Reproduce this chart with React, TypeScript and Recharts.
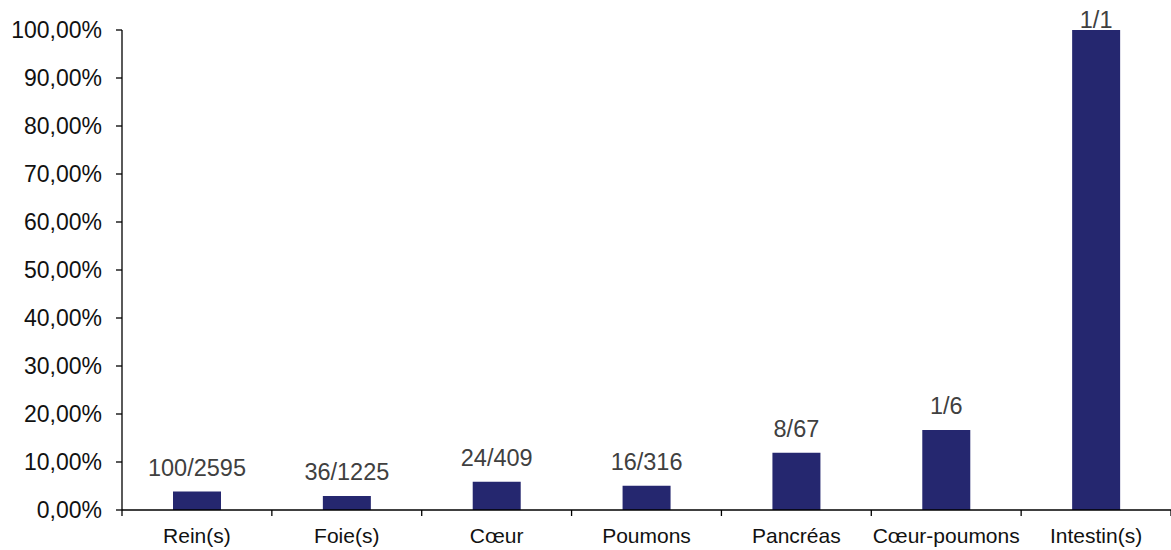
import React from "react";
import { BarChart, Bar, XAxis, YAxis, LabelList } from "recharts";

const categories = ["Rein(s)", "Foie(s)", "Cœur", "Poumons", "Pancréas", "Cœur-poumons", "Intestin(s)"];
const percentages = [3.85, 2.94, 5.87, 5.06, 11.94, 16.67, 100];
const ratioLabels = ["100/2595", "36/1225", "24/409", "16/316", "8/67", "1/6", "1/1"];
const yTicks = [0, 10, 20, 30, 40, 50, 60, 70, 80, 90, 100];

const data = categories.map((c, i) => ({ name: c, value: percentages[i], label: ratioLabels[i] }));

const W = 1171;
const H = 550;
const M = { top: 30, right: 0, bottom: 0, left: 0 };
const Y_W = 122;
const X_H = 40;
const FONT = "'Liberation Sans', Arial, sans-serif";
const band = (W - M.left - M.right - Y_W) / categories.length;

const XTick = (props: any) => {
  const { x, y, payload, index } = props;
  const left = x - band / 2;
  const right = x + band / 2;
  return (
    <g>
      <line x1={left} y1={y} x2={left} y2={y + 6} stroke="#000" strokeWidth={1.3} />
      {index === categories.length - 1 && (
        <line x1={right} y1={y} x2={right} y2={y + 6} stroke="#000" strokeWidth={1.3} />
      )}
      <text x={x} y={y + 33} textAnchor="middle" fontSize={21} fontFamily={FONT} fill="#111">
        {payload.value}
      </text>
    </g>
  );
};

const TopLabel = (props: any) => {
  const { x, y, width, value } = props;
  const ty = Math.max(y - 16, 28);
  return (
    <text x={x + width / 2} y={ty} textAnchor="middle" fontSize={23.5} fontFamily={FONT} fill="#404040">
      {value}
    </text>
  );
};

export default function App() {
  return (
    <div style={{ position: "absolute", left: 0, top: 0, background: "#fff" }}>
      <BarChart width={W} height={H} data={data} margin={M} barCategoryGap={0}>
        <XAxis
          dataKey="name"
          height={X_H}
          axisLine={{ stroke: "#000", strokeWidth: 1.3 }}
          tickLine={false}
          tickSize={0}
          tickMargin={0}
          tick={<XTick />}
          interval={0}
        />
        <YAxis
          width={Y_W}
          domain={[0, 100]}
          ticks={yTicks}
          interval={0}
          tickFormatter={(v: number) => v.toFixed(2).replace(".", ",") + "%"}
          axisLine={{ stroke: "#000", strokeWidth: 1.3 }}
          tickLine={{ stroke: "#000", strokeWidth: 1.3 }}
          tickSize={6}
          tickMargin={14}
          tick={{ fontSize: 23, fontFamily: FONT, fill: "#111" }}
        />
        <Bar dataKey="value" fill="#25276F" barSize={48} isAnimationActive={false}>
          <LabelList dataKey="label" content={<TopLabel />} />
        </Bar>
      </BarChart>
    </div>
  );
}
